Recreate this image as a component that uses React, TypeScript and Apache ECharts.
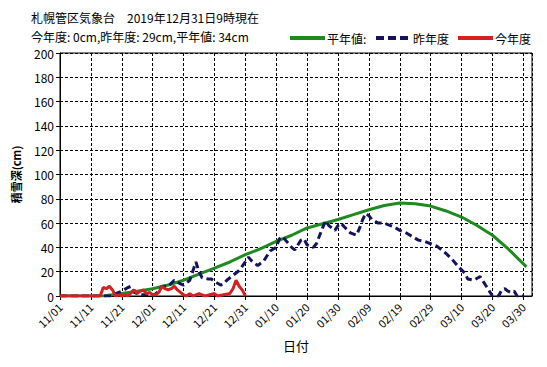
import React, { useEffect, useRef } from "react";
import * as echarts from "echarts";

// x = days since 2019-11-01
const tickLabels = ["11/01", "11/11", "11/21", "12/01", "12/11", "12/21", "12/31", "01/10", "01/20", "01/30", "02/09", "02/19", "02/29", "03/10", "03/20", "03/30"];

const normalDays = [0, 14, 20, 25, 30, 35, 40, 45, 50, 55, 60, 65, 70, 75, 80, 85, 90, 95, 100, 105, 110, 115, 120, 125, 130, 135, 140, 145, 151];
const normalVals = [0, 0, 2, 4, 6, 9, 13, 18, 23, 28, 34, 39, 45, 50, 56, 59.5, 63, 67, 71, 74.5, 76.5, 76, 74, 70, 65, 58, 50, 39, 24];

const lastYearDays = [0, 17, 18, 20, 22, 23, 24, 25, 26, 28, 30, 31, 32, 33, 35, 37, 39, 40, 41, 42, 44, 45, 46, 48, 49, 50, 52, 53, 54, 56, 58, 60, 61, 62, 64, 66, 68, 70, 71, 72, 73, 75, 76, 77, 78, 79, 80, 82, 83, 85, 86, 87, 89, 90, 91, 92, 94, 96, 97, 98, 99, 100, 101, 103, 105, 107, 108, 110, 112, 114, 116, 118, 120, 122, 123, 125, 127, 129, 131, 132, 134, 136, 137, 138, 139, 140, 142, 143, 144, 145, 146, 147, 148, 150];
const lastYearVals = [0, 0, 2, 4, 7, 8, 3, 2, 1, 1, 0, 2, 4, 8, 8, 13, 10, 9, 11, 13, 28, 20, 15, 14, 14, 12, 9, 10, 13, 17, 21, 28, 32, 29, 25, 29, 37, 40, 47, 49, 46, 40, 38, 42, 46, 47, 42, 40, 43, 56, 62, 58, 54, 58, 60, 57, 52, 50, 56, 63, 68, 66, 63, 60, 60, 58, 57, 54, 52, 49, 46, 45, 43, 41, 39, 35, 30, 24, 19, 14, 13, 16, 12, 8, 4, 0, 0, 5, 6, 4, 3, 4, 0, 0];

const thisYearDays = [0, 13, 14, 15, 16, 17, 18, 19, 20, 21, 22, 24, 25, 26, 27, 28, 29, 30, 31, 32, 33, 34, 35, 36, 37, 38, 39, 40, 41, 42, 43, 44, 45, 46, 47, 50, 51, 55, 56, 57, 58, 59, 60];
const thisYearVals = [0, 0, 7, 6, 8, 5, 0, 1, 0, 1, 0, 5, 2, 4, 5, 2, 3, 1, 1, 3, 8, 6, 5, 6, 8, 5, 3, 1, 0, 2, 0, 1, 2, 1, 0, 2, 0, 2, 6, 13, 8, 5, 0];

const zip = (d: number[], v: number[]) => d.map((x, i) => [x, v[i]]);

const GREEN = "#1f8a1f";
const NAVY = "#14145e";
const RED = "#d42020";
const FONT = "'Noto Sans CJK JP', sans-serif";

export default function App() {
  const ref = useRef<HTMLDivElement>(null);
  useEffect(() => {
    if (!ref.current) return;
    const chart = echarts.init(ref.current, null, { renderer: "svg" });
    chart.setOption({
      animation: false,
      backgroundColor: "#fff",
      textStyle: { fontFamily: FONT, color: "#000" },
      grid: { left: 60, right: 15, top: 53, bottom: 71, show: true, borderColor: "#000", borderWidth: 1 },
      xAxis: {
        type: "value",
        min: 0,
        max: 152.8,
        interval: 10,
        name: "日付",
        nameLocation: "middle",
        nameGap: 43,
        nameTextStyle: { fontSize: 13, color: "#000", fontFamily: FONT },
        axisLine: { lineStyle: { color: "#000", width: 1 } },
        axisTick: { show: true, length: 4, lineStyle: { color: "#000" } },
        axisLabel: {
          rotate: 45,
          margin: 9,
          fontSize: 11,
          color: "#000",
          fontFamily: FONT,
          showMaxLabel: false,
          formatter: (v: number) => {
            const i = Math.round(v / 10);
            return Math.abs(v - i * 10) < 1e-6 && i < tickLabels.length ? tickLabels[i] : "";
          },
        },
        splitLine: { show: true, lineStyle: { color: "#000", type: [3, 2], width: 1 } },
      },
      yAxis: {
        type: "value",
        min: 0,
        max: 200,
        interval: 20,
        name: "積雪深(cm)",
        nameLocation: "middle",
        nameRotate: 90,
        nameGap: 39,
        nameTextStyle: { fontSize: 11, fontWeight: "bold", color: "#000", fontFamily: FONT },
        axisLine: { show: true, lineStyle: { color: "#000", width: 1 } },
        axisTick: { show: true, length: 4, lineStyle: { color: "#000" } },
        axisLabel: { fontSize: 12, color: "#000", margin: 6, fontFamily: FONT },
        splitLine: { show: true, lineStyle: { color: "#000", type: [3, 2], width: 1 } },
      },
      series: [
        {
          name: "平年値",
          type: "line",
          data: zip(normalDays, normalVals),
          symbol: "none",
          lineStyle: { color: GREEN, width: 3 },
          itemStyle: { color: GREEN },
          z: 2,
        },
        {
          name: "昨年度",
          type: "line",
          data: zip(lastYearDays, lastYearVals),
          symbol: "none",
          lineStyle: { color: NAVY, width: 3, type: [7, 4] },
          itemStyle: { color: NAVY },
          z: 3,
        },
        {
          name: "今年度",
          type: "line",
          data: zip(thisYearDays, thisYearVals),
          symbol: "none",
          lineStyle: { color: RED, width: 3 },
          itemStyle: { color: RED },
          z: 4,
        },
      ],
      graphic: [
        { type: "text", left: 31, top: 11, style: { text: "札幌管区気象台　2019年12月31日9時現在", font: `12px ${FONT}`, fill: "#000" } },
        { type: "text", left: 31, top: 30, style: { text: "今年度: 0cm,昨年度: 29cm,平年値: 34cm", font: `12px ${FONT}`, fill: "#000" } },
        { type: "line", shape: { x1: 290, y1: 38, x2: 325, y2: 38 }, style: { stroke: GREEN, lineWidth: 4 } },
        { type: "text", x: 327, y: 38, style: { text: "平年値:", font: `12px ${FONT}`, fill: "#000", verticalAlign: "middle" } },
        { type: "line", shape: { x1: 376, y1: 38, x2: 409, y2: 38 }, style: { stroke: NAVY, lineWidth: 4, lineDash: [8, 4] } },
        { type: "text", x: 413, y: 38, style: { text: "昨年度", font: `12px ${FONT}`, fill: "#000", verticalAlign: "middle" } },
        { type: "line", shape: { x1: 458, y1: 38, x2: 493, y2: 38 }, style: { stroke: RED, lineWidth: 4 } },
        { type: "text", x: 495, y: 38, style: { text: "今年度", font: `12px ${FONT}`, fill: "#000", verticalAlign: "middle" } },
      ],
    });
    return () => chart.dispose();
  }, []);
  return <div ref={ref} style={{ position: "fixed", left: 0, top: 0, width: 547, height: 367 }} />;
}
